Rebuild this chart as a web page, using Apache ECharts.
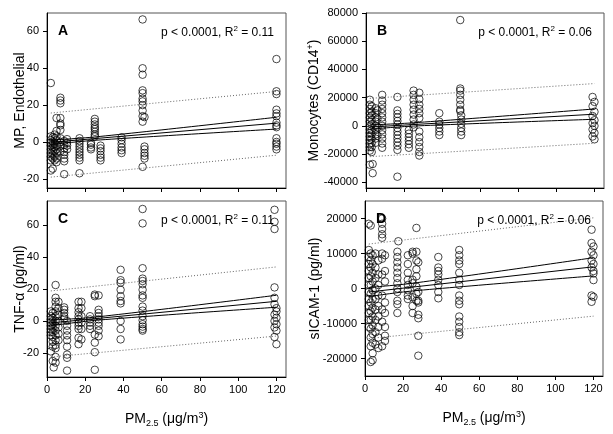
<!DOCTYPE html>
<html><head><meta charset="utf-8">
<script src="https://cdn.jsdelivr.net/npm/echarts@6/dist/echarts.min.js"></script>
<style>html,body{margin:0;padding:0;background:#fff}#c{width:613px;height:434px}</style>
</head><body><div id="c"></div>
<script>
// ---- Data (x = PM2.5 µg/m3) ----
const panelLetters = ['A', 'B', 'C', 'D'];
const statsText = ['0.11', '0.06', '0.11', '0.06'];
const xTicks = [0, 20, 40, 60, 80, 100, 120];
const yTicksA = [-20, 0, 20, 40, 60];
const yTicksB = [-40000, -20000, 0, 20000, 40000, 60000, 80000];
const yTicksC = [-20, 0, 20, 40, 60];
const yTicksD = [-20000, -10000, 0, 10000, 20000];

const pointsA = [
 [2,32],[2,3],[2,1],[2,-0.5],[2,-2],[2,-4],[2,-6],[2,-8],[2,-10],[2,-15.5],
 [3,2.5],[3,0],[3,-1.5],[3,-3],[3,-5],[3,-7],[3,-9],[3,-14.5],
 [4,4],[4,2],[4,-1],[4,-3],[4,-5],[4,-8],[4,-10],
 [5,13],[5,6],[5,3],[5,1],[5,-2],[5,-4],[5,-6],[5,-9],[5,-11],
 [7,24],[7,22.5],[7,21],[7,13],[7,10],[7,9],[7,6.5],[7,2],[7,0],[7,-2],[7,-5],
 [9,0.5],[9,-1.5],[9,-3.5],[9,-5.5],[9,-7],[9,-9],[9,-10.5],[9,-17.5],
 [10.5,1.5],[10.5,-0.5],[10.5,-2],[10.5,-4],
 [17,2],[17,0.5],[17,-1],[17,-2.5],[17,-4],[17,-5.5],[17,-7],[17,-8.5],[17,-10],[17,-17],
 [23,-0.5],[23,-1.5],[23,-3],[23,-4],
 [25,12.5],[25,11],[25,9.5],[25,8],[25,7],[25,5.5],[25,4],[25,3],
 [28,-2],[28,-3.5],[28,-5],[28,-7],[28,-8.5],[28,-10],
 [39,2.5],[39,1],[39,-1],[39,-3],[39,-4.5],[39,-6],
 [50,66.5],[50,40],[50,36.5],[50,28],[50,26.5],[50,23.5],[50,22],[50,20],[50,17],[50,14],[50,11],[51,13.5],
 [51,-2.5],[51,-4],[51,-6],[51,-7.5],[51,-9],[50,-13.5],
 [120,45],[120,27.5],[120,26],[120,17.5],[120,15.5],[120,14],[120,10.5],[120,9],[120,8],[120,2],[120,0],[120,-1],[120,-2.5],[120,-4]
];
const pointsB = [
 [2,18500],[2,15000],[2,12000],[2,9000],[2,6000],[2,3000],[2,0],[2,-2500],[2,-5000],[2,-7500],[2,-10000],[2,-12500],[2,-15000],[2,-17500],[2,-27500],
 [3,14000],[3,10000],[3,7500],[3,4000],[3,1000],[3,-3000],[3,-6000],[3,-9000],[3,-12000],[3,-15000],[3,-18500],[3.5,-27000],[3.5,-33500],
 [5,12500],[5,9000],[5,6000],[5,3000],[5,0],[5,-3000],[5,-6000],[5,-9000],[5,-12000],
 [6,11000],[6,5000],[6,-1000],[6,-7000],
 [8.5,22000],[8.5,18000],[8.5,15000],[8.5,12000],[8.5,9000],[8.5,6000],[8.5,3000],[8.5,0],[8.5,-3000],[8.5,-6000],[8.5,-9000],[8.5,-12500],[8.5,-15500],
 [16.5,20500],[16.5,11000],[16.5,8500],[16.5,6000],[16.5,3500],[16.5,1000],[16.5,-1500],[16.5,-4000],[16.5,-6500],[16.5,-9000],[16.5,-11500],[16.5,-14000],[16.5,-17000],[16.5,-36000],
 [22.5,-3000],[22.5,-5500],[22.5,-8000],[22.5,-10500],[22.5,-13000],[22.5,-15500],
 [25,25000],[25,22000],[25,18500],[25,15000],[25,11500],[25,8000],[25,4500],[25,1000],[25,-1000],
 [28,23500],[28,19000],[28,15000],[28,12000],[28,9000],[28,5500],[28,-4000],[28,-8000],[28,-11500],[28,-15000],[28,-18500],[28,-21000],
 [38.5,9000],[38.5,3000],[38.5,1000],[38.5,-1500],[38.5,-4000],[38.5,-6500],
 [49.5,75000],[49.5,26500],[49.5,25000],[49.5,22000],[49.5,18500],[49.5,15000],[49.5,11500],[49.5,10500],[50,7500],[50,4500],[50,1500],[50,-1500],[50,-4000],[50,-6500],
 [119,20500],[120,17000],[119,14000],[120,10000],[119,7000],[120,4000],[119,2000],[120,0],[119,-2500],[120,-5000],[119,-7500],[120,-9500]
];
const pointsC = [
 [2,6],[2,3],[2,1],[2,-1],[2,-3],[2,-5],[2,-7],[2,-9],[2,-19],
 [3,5],[3,2],[3,0],[3,-2],[3,-4],[3,-7],[3,-10],[3,-13],[3,-16],[3,-25],[3.5,-29],
 [4.5,22.5],[4.5,14.5],[4.5,12],[4.5,9],[4.5,6],[4.5,3],[4.5,0],[4.5,-3],[4.5,-6],[4.5,-9],[4.5,-12],[4.5,-15],[4.5,-17],[4.5,-22.5],[4.5,-26],
 [6,12],[6,8],[6,4],[6,0],[6,-4],[6,-8],[6,-12],
 [9,8.5],[9,7],[9,5],[9,3],[9,1.5],
 [10.5,0],[10.5,-3],[10.5,-6],[10.5,-9],[10.5,-12],[10.5,-16],[10.5,-21],[10.5,-23],[10.5,-31],
 [16.5,12],[16.5,8],[16.5,5.5],[16.5,3],[16.5,1],[16.5,-1],[16.5,-3],[16.5,-5],[16.5,-10.5],[16.5,-14.5],
 [18,12],[18,8],[18,3],[18,-1],[18,-5],[18,-11.5],
 [22.5,3],[22.5,1],[22.5,-1],[22.5,-3],[22.5,-5],
 [25,16.5],[25,15.5],[25,-8.5],[25,-13.5],[25,-19.5],[25,-30.5],
 [27,16],[27,7],[27,5],[27,3],[27,1],[27,-1],[27,-3],[27,-6],[27,-9.5],
 [38.5,32],[38.5,25.5],[38.5,24],[38.5,19.5],[38.5,15.5],[38.5,12.5],[38.5,11],[38.5,0],[38.5,-5],[38.5,-11.5],
 [50,70],[50,61],[50,33],[50,26.5],[50,25],[50,23],[50,19.5],[50,16],[50,14.5],[50,9],[50,6.5],[50,3],[50,0.5],[50,-2],[50,-3.5],[50,-5],[50,-6],
 [119,69.5],[119,62],[119,57.5],[119,21],[119,14.5],[119,10.5],[120,8],[120,6],[119,4],[120,2],[119,0],[120,-2],[119,-4],[120,-6],[119,-10],[120,-14.5]
];
const pointsD = [
 [2,18500],[2,11000],[2,9000],[2,7000],[2,5000],[2,3000],[2,1000],[2,-1000],[2,-3000],[2,-5000],[2,-7000],[2,-9000],[2,-11000],
 [3,18000],[3,10000],[3,8000],[3,6000],[3,3500],[3,1000],[3,-1500],[3,-4000],[3,-6500],[3,-9000],[3,-11500],[3,-14000],[3,-16500],[3,-21000],
 [4,9500],[4,7000],[4,4500],[4,2000],[4,-500],[4,-3000],[4,-5500],[4,-8000],[4,-10500],[4,-13000],[4,-15500],[4,-18500],[4,-20500],
 [5.5,10000],[5.5,6000],[5.5,3000],[5.5,0],[5.5,-3000],[5.5,-6000],[5.5,-9000],[5.5,-12500],[5.5,-16000],
 [7,8000],[7,4000],[7,1000],[7,-2000],[7,-5000],[7,-8000],[7,-11000],[7,-14000],[7,-17000],
 [9,20000],[9,18500],[9,17000],[9,15500],[9,14500],[9,10000],[9,8500],[9,4000],[9,-2000],[9,-6000],[9,-9500],[9,-16500],
 [10.5,9500],[10.5,5000],[10.5,2000],[10.5,-4000],[10.5,-7000],[10.5,-11000],[10.5,-13500],[10.5,-15000],
 [17,10500],[17,9000],[17,7500],[17,6000],[17,4500],[17,3000],[17,1500],[17,0],[17,-1000],[17,-3500],[17,-4500],[17,-7000],[17.5,13500],
 [22.5,9500],[22.5,7000],[22.5,4500],[22.5,2500],[22.5,1000],[22.5,-500],[22.5,-2000],[22.5,-3000],
 [25,10500],[25,10000],[25,2500],[25,1500],[25,-2500],[25,-5000],[25,-7000],
 [27,17300],[27,10500],[27,8000],[27,5500],[27,3500],[27,500],[27,-1500],[27,-3500],
 [28,7500],[28,-1000],[28,-3500],[28,-4000],[28,-7500],[28,-8500],[28,-13500],[28,-19200],
 [38.5,9000],[38.5,6000],[38.5,5000],[38.5,4000],[38.5,2500],[38.5,1000],[38.5,-1000],[38.5,-2800],
 [49.5,11000],[49.5,9500],[49.5,8000],[49.5,7000],[49.5,4500],[49.5,2500],[49.5,1000],[49.5,-2000],[49.5,-3500],[49.5,-4500],[49.5,-8000],[49.5,-9500],[49.5,-11000],[49.5,-12500],[49.5,-13300],
 [119,16800],[119,13000],[120,12000],[119,10500],[120,9500],[119,8000],[120,7000],[119,6000],[120,5000],[120,4300],[120,2400],[119,-2000],[120,-2400],[119,-3800]
];

// regression line (fit), 95% CI of fit (upper/lower), prediction interval (upper/lower)
const fitA = [[2,-0.2],[120,10.2]];
const ciHiA = [[2,1.0],[25,2.7],[120,13.4]];
const ciLoA = [[2,-1.4],[25,0.9],[120,7.0]];
const piHiA = [[2,15.7],[120,27.4]];
const piLoA = [[2,-19.1],[120,-7.2]];

const fitB = [[2,-800],[120,8300]];
const ciHiB = [[2,700],[25,2200],[120,12000]];
const ciLoB = [[2,-2300],[25,-100],[120,4700]];
const piHiB = [[2,19500],[120,30000]];
const piLoB = [[2,-21800],[120,-12300]];

const fitC = [[2,-1.2],[120,12.3]];
const ciHiC = [[2,0.6],[25,2.4],[120,16.1]];
const ciLoC = [[2,-3.0],[25,0.4],[120,8.6]];
const piHiC = [[2,18.8],[120,33.8]];
const piLoC = [[2,-22.5],[120,-9.4]];

const fitD = [[2,-1000],[120,6200]];
const ciHiD = [[2,300],[25,1500],[120,8800]];
const ciLoD = [[2,-2300],[25,-700],[120,3600]];
const piHiD = [[2,12700],[120,20200]];
const piLoD = [[2,-14300],[120,-7900]];

// ---- chart ----
const FONT = 'Liberation Sans, Arial, sans-serif';
const grids = [
  {left: 47, top: 13, width: 239, height: 175},
  {left: 366, top: 13, width: 238, height: 175},
  {left: 47, top: 201, width: 239, height: 176},
  {left: 365, top: 201, width: 238, height: 175}
];
const yRanges = [[-25, 70], [-44000, 80000], [-35, 75], [-25000, 25000]];
const yTicks = [yTicksA, yTicksB, yTicksC, yTicksD];
const yNames = [
  'MP, Endothelial',
  'Monocytes (CD14{sup|+})',
  'TNF-α (pg/ml)',
  'sICAM-1 (pg/ml)'
];
const yGaps = [20, 43, 20, 43];
const points = [pointsA, pointsB, pointsC, pointsD];
const lines = [
  [fitA, ciHiA, ciLoA, piHiA, piLoA],
  [fitB, ciHiB, ciLoB, piHiB, piLoB],
  [fitC, ciHiC, ciLoC, piHiC, piLoC],
  [fitD, ciHiD, ciLoD, piHiD, piLoD]
];

const richName = {
  sup: {fontSize: 9, fontFamily: FONT, color: '#000', padding: [0, 0, 8, 0]},
  sub: {fontSize: 9, fontFamily: FONT, color: '#000', padding: [8, 0, 0, 0]}
};

const xAxis = grids.map((g, i) => ({
  gridIndex: i, type: 'value', min: 0, max: 125,
  axisLine: {show: true, onZero: false, lineStyle: {color: '#000', width: 1}},
  axisTick: {show: true, inside: false, length: 4, customValues: xTicks, lineStyle: {color: '#000'}},
  axisLabel: {show: i >= 2, customValues: xTicks, margin: 7, fontSize: 11, color: '#000', fontFamily: FONT,
    formatter: v => String(v)},
  splitLine: {show: false},
  name: i >= 2 ? 'PM{sub|2.5} (μg/m{sup|3})' : '',
  nameLocation: 'middle', nameGap: 34, nameMoveOverlap: false,
  nameTextStyle: {fontSize: 14, color: '#000', fontFamily: FONT, rich: richName}
}));

const yAxis = grids.map((g, i) => ({
  gridIndex: i, type: 'value', min: yRanges[i][0], max: yRanges[i][1],
  axisLine: {show: true, onZero: false, lineStyle: {color: '#000', width: 1}},
  axisTick: {show: true, inside: false, length: 4, customValues: yTicks[i], lineStyle: {color: '#000'}},
  axisLabel: {customValues: yTicks[i], margin: 8, fontSize: 11, color: '#000', fontFamily: FONT,
    formatter: v => String(v)},
  splitLine: {show: false},
  name: yNames[i], nameLocation: 'middle', nameGap: yGaps[i], nameMoveOverlap: false,
  nameTextStyle: {fontSize: 14, color: '#000', fontFamily: FONT, rich: richName}
}));

const series = [];
points.forEach((pts, i) => {
  series.push({
    type: 'scatter', xAxisIndex: i, yAxisIndex: i, data: pts,
    symbol: 'circle', symbolSize: 7.5, silent: true, z: 2,
    itemStyle: {color: 'rgba(255,255,255,0)', borderColor: '#000', borderWidth: 0.9}
  });
  lines[i].forEach((ln, k) => {
    series.push({
      type: 'line', xAxisIndex: i, yAxisIndex: i, data: ln,
      showSymbol: false, symbol: 'none', silent: true, z: 3, smooth: k === 1 || k === 2 ? 0.3 : false,
      lineStyle: k < 3 ? {color: '#000', width: 1} : {color: '#666', width: 1, type: [1, 2]}
    });
  });
});

const title = [];
grids.forEach((g, i) => {
  title.push({
    text: panelLetters[i], left: g.left + 6, top: g.top + 6,
    textStyle: {fontSize: 14, fontWeight: 'bold', color: '#000', fontFamily: FONT}
  });
  title.push({
    text: 'p < 0.0001, R{sup|2} = ' + statsText[i],
    right: 613 - (g.left + g.width) + 7, top: g.top + 7,
    textStyle: {fontSize: 12, fontWeight: 'normal', color: '#000', fontFamily: FONT,
      rich: {sup: {fontSize: 8, fontWeight: 'normal', fontFamily: FONT, color: '#000', padding: [0, 0, 7, 0]}}}
  });
});

const grid = grids.map(g => Object.assign({show: true, borderColor: '#555', borderWidth: 1, backgroundColor: 'transparent'}, g));

const chart = echarts.init(document.getElementById('c'), null, {renderer: 'canvas'});
chart.setOption({
  animation: false,
  backgroundColor: '#fff',
  title: title,
  grid: grid,
  xAxis: xAxis,
  yAxis: yAxis,
  series: series
});
</script>
</body></html>
